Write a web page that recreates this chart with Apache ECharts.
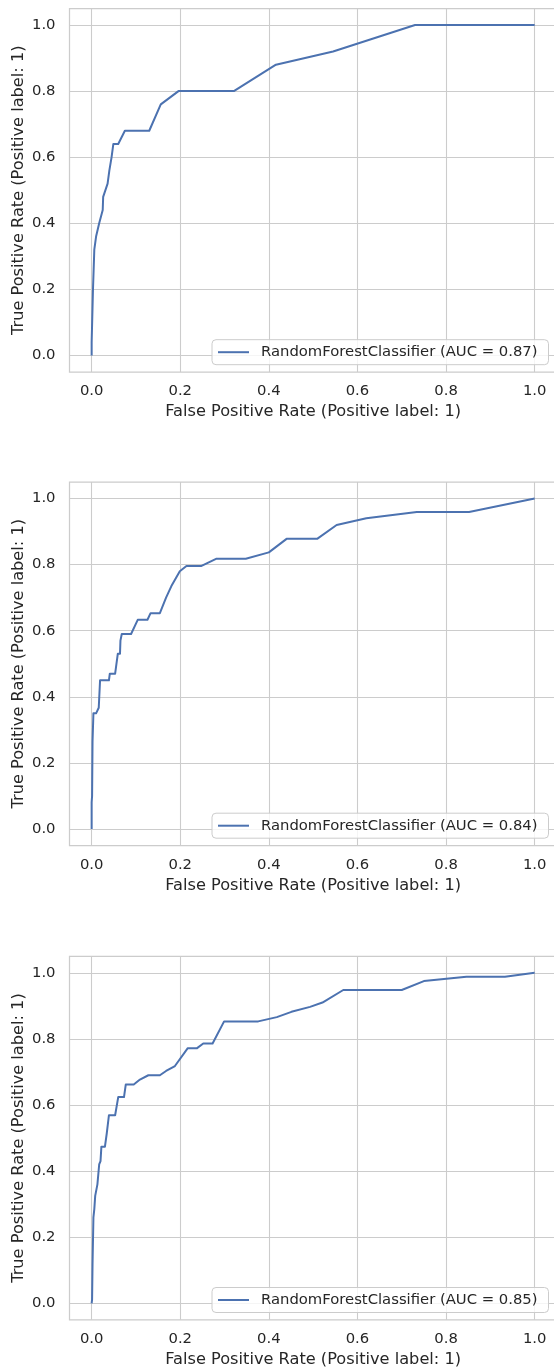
<!DOCTYPE html>
<html>
<head>
<meta charset="utf-8">
<script src="https://cdn.jsdelivr.net/npm/echarts@6/dist/echarts.min.js"></script>
<style>
  html, body { margin: 0; padding: 0; background: #fff; }
  #chart { width: 554px; height: 1368px; }
</style>
</head>
<body>
<div id="chart"></div>
<script>
const tickValues = [0, 0.2, 0.4, 0.6, 0.8, 1.0];

const fpr1 = [0, 0, 0.003, 0.003, 0.006, 0.006, 0.010, 0.013, 0.017, 0.021, 0.025, 0.026, 0.030, 0.036, 0.040, 0.045, 0.049, 0.060, 0.075, 0.130, 0.156, 0.196, 0.321, 0.416, 0.545, 0.730, 1.0];
const tpr1 = [0, 0.04, 0.04, 0.20, 0.20, 0.32, 0.36, 0.36, 0.40, 0.40, 0.44, 0.48, 0.48, 0.52, 0.56, 0.60, 0.64, 0.64, 0.68, 0.68, 0.76, 0.80, 0.80, 0.88, 0.92, 1.0, 1.0];

const fpr2 = [0, 0, 0.001, 0.002, 0.004, 0.010, 0.016, 0.019, 0.039, 0.041, 0.053, 0.055, 0.059, 0.064, 0.065, 0.068, 0.089, 0.104, 0.126, 0.133, 0.154, 0.168, 0.180, 0.199, 0.214, 0.248, 0.282, 0.348, 0.400, 0.440, 0.509, 0.553, 0.620, 0.734, 0.852, 1.0];
const tpr2 = [0, 0.08, 0.10, 0.265, 0.35, 0.35, 0.367, 0.45, 0.45, 0.47, 0.47, 0.49, 0.53, 0.53, 0.57, 0.59, 0.59, 0.633, 0.633, 0.653, 0.653, 0.70, 0.735, 0.78, 0.796, 0.796, 0.818, 0.818, 0.837, 0.878, 0.878, 0.92, 0.94, 0.959, 0.959, 1.0];

const fpr3 = [0, 0.001, 0.002, 0.004, 0.006, 0.008, 0.013, 0.017, 0.020, 0.022, 0.030, 0.034, 0.039, 0.053, 0.060, 0.073, 0.077, 0.095, 0.109, 0.128, 0.154, 0.168, 0.188, 0.217, 0.238, 0.252, 0.273, 0.299, 0.376, 0.418, 0.451, 0.493, 0.521, 0.568, 0.700, 0.750, 0.846, 0.933, 1.0];
const tpr3 = [0, 0.012, 0.118, 0.26, 0.285, 0.325, 0.36, 0.42, 0.43, 0.474, 0.474, 0.513, 0.569, 0.569, 0.624, 0.624, 0.662, 0.662, 0.677, 0.69, 0.69, 0.703, 0.718, 0.772, 0.772, 0.786, 0.786, 0.853, 0.853, 0.866, 0.882, 0.897, 0.91, 0.948, 0.948, 0.975, 0.988, 0.988, 1.0];

const legendNames = [
  "RandomForestClassifier (AUC = 0.87)",
  "RandomForestClassifier (AUC = 0.84)",
  "RandomForestClassifier (AUC = 0.85)",
];
const xTitle = "False Positive Rate (Positive label: 1)";
const yTitle = "True Positive Rate (Positive label: 1)";

const curves = [[fpr1, tpr1], [fpr2, tpr2], [fpr3, tpr3]];
const gridTops = [8.5, 482, 956.3];

const FONT = "DejaVu Sans";
const TEXT = "#262626";
const GRID = "#cccccc";
const LINE = "#4c72b0";

const grids = [], xAxes = [], yAxes = [], series = [], legends = [];

gridTops.forEach((top, i) => {
  grids.push({
    left: 69.5, top: top, width: 487.3, height: 363.5,
    outerBoundsMode: "none",
    containLabel: false,
    show: true, borderColor: GRID, borderWidth: 1.25, backgroundColor: "#fff",
  });
  const axisCommon = {
    gridIndex: i,
    type: "value",
    min: -0.05,
    max: 1.05,
    nameLocation: "middle",
    nameMoveOverlap: false,
    nameTextStyle: { fontFamily: FONT, fontSize: 16.2, color: TEXT },
    axisLine: { show: false, onZero: false },
    axisTick: { show: false, customValues: tickValues },
    axisLabel: {
      customValues: tickValues,
      fontFamily: FONT, fontSize: 14.8, color: TEXT,
      formatter: (v) => v.toFixed(1),
    },
    splitLine: { show: true, lineStyle: { color: GRID, width: 1.1 } },
  };
  xAxes.push(Object.assign({}, axisCommon, {
    name: xTitle, nameGap: 32,
    axisLabel: Object.assign({}, axisCommon.axisLabel, { margin: 12 }),
  }));
  yAxes.push(Object.assign({}, axisCommon, {
    name: yTitle, nameGap: 43,
    axisLabel: Object.assign({}, axisCommon.axisLabel, { margin: 14 }),
  }));
  const [fpr, tpr] = curves[i];
  series.push({
    name: legendNames[i],
    type: "line",
    xAxisIndex: i,
    yAxisIndex: i,
    data: fpr.map((x, k) => [x, tpr[k]]),
    symbol: "none",
    lineStyle: { color: LINE, width: 2, join: "round" },
    itemStyle: { color: LINE },
    z: 3,
  });
  legends.push({
    data: [legendNames[i]],
    left: 212,
    top: top + 363.5 - 32.3,
    orient: "vertical",
    padding: [5, 11, 5, 6],
    icon: "rect",
    itemWidth: 31,
    itemHeight: 2,
    itemStyle: { color: LINE },
    backgroundColor: "rgba(255,255,255,0.8)",
    borderColor: GRID,
    borderWidth: 1,
    borderRadius: 4,
    selectedMode: false,
    textStyle: { fontFamily: FONT, fontSize: 14.8, color: TEXT, lineHeight: 15, padding: [0, 0, 0, 7] },
    z: 10,
  });
});

const chart = echarts.init(document.getElementById("chart"));
chart.setOption({
  animation: false,
  backgroundColor: "#fff",
  grid: grids,
  xAxis: xAxes,
  yAxis: yAxes,
  legend: legends,
  series: series,
});
</script>
</body>
</html>
